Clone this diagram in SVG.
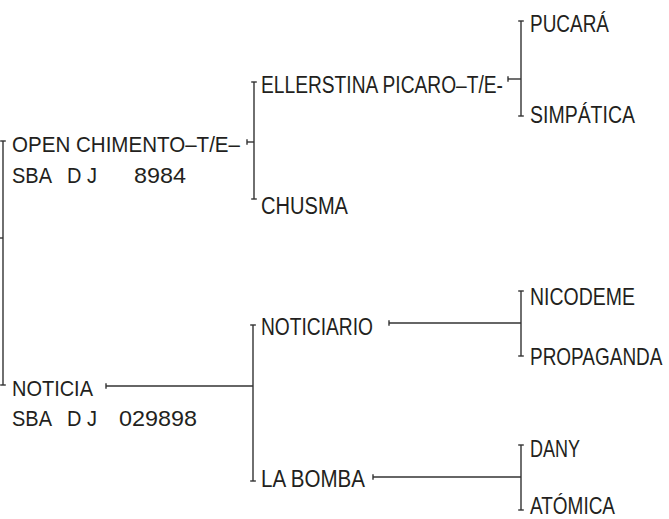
<svg xmlns="http://www.w3.org/2000/svg" width="669" height="519" viewBox="0 0 669 519">
<style>
.t{font-family:"Liberation Sans",Arial,sans-serif;font-size:23px;fill:#231f20}
.r{font-size:22px}
.c{fill:none;stroke:#333;stroke-width:1.4}
.e{marker-start:url(#cap);marker-end:url(#cap)}
.s{marker-start:url(#cap)}
</style>
<defs>
<marker id="cap" viewBox="-4 -4 8 8" markerWidth="8" markerHeight="8" refX="0" refY="0" orient="auto" markerUnits="userSpaceOnUse">
<path d="M0,-2.8V2.8" stroke="#333" stroke-width="1.4"/>
</marker>
</defs>
<rect width="669" height="519" fill="#fff"/>
<g id="connectors">
<path class="c e" d="M3,141V385"/>
<path class="c" d="M0,238H3"/>
<path class="c s" d="M247,142H254"/>
<path class="c e" d="M254,82V199"/>
<path class="c s" d="M508,79H521"/>
<path class="c e" d="M521,21V116"/>
<path class="c s" d="M106,386H253"/>
<path class="c e" d="M253,325V481"/>
<path class="c s" d="M389,323H521"/>
<path class="c e" d="M521,291V356"/>
<path class="c s" d="M373,477H521"/>
<path class="c e" d="M521,445V510"/>
</g>
<g id="open-chimento">
<text class="t r" x="12" y="152" textLength="228" lengthAdjust="spacingAndGlyphs">OPEN CHIMENTO–T/E–</text>
<text class="t r" x="12" y="183" textLength="40" lengthAdjust="spacingAndGlyphs">SBA</text>
<text class="t r" x="67" y="183" textLength="30" lengthAdjust="spacingAndGlyphs">D J</text>
<text class="t r" x="134" y="183" textLength="52" lengthAdjust="spacingAndGlyphs">8984</text>
</g>
<g id="noticia">
<text class="t r" x="12" y="396" textLength="81" lengthAdjust="spacingAndGlyphs">NOTICIA</text>
<text class="t r" x="12" y="426" textLength="40" lengthAdjust="spacingAndGlyphs">SBA</text>
<text class="t r" x="67" y="426" textLength="30" lengthAdjust="spacingAndGlyphs">D J</text>
<text class="t r" x="119" y="426" textLength="78" lengthAdjust="spacingAndGlyphs">029898</text>
</g>
<g id="ellerstina">
<text class="t" x="261" y="93" textLength="242" lengthAdjust="spacingAndGlyphs">ELLERSTINA PICARO–T/E-</text>
</g>
<g id="chusma">
<text class="t" x="261" y="214" textLength="87" lengthAdjust="spacingAndGlyphs">CHUSMA</text>
</g>
<g id="pucara">
<text class="t" x="530" y="32" textLength="79" lengthAdjust="spacingAndGlyphs">PUCARÁ</text>
</g>
<g id="simpatica">
<text class="t" x="530" y="123" textLength="105" lengthAdjust="spacingAndGlyphs">SIMPÁTICA</text>
</g>
<g id="noticiario">
<text class="t" x="261" y="335" textLength="112" lengthAdjust="spacingAndGlyphs">NOTICIARIO</text>
</g>
<g id="la-bomba">
<text class="t" x="261" y="487" textLength="104" lengthAdjust="spacingAndGlyphs">LA BOMBA</text>
</g>
<g id="nicodeme">
<text class="t" x="530" y="305" textLength="105" lengthAdjust="spacingAndGlyphs">NICODEME</text>
</g>
<g id="propaganda">
<text class="t" transform="translate(530,365) scale(0.825,1)" x="0" y="0">PROPAGANDA</text>
</g>
<g id="dany">
<text class="t" x="530" y="457" textLength="50" lengthAdjust="spacingAndGlyphs">DANY</text>
</g>
<g id="atomica">
<text class="t" x="530" y="514" textLength="85" lengthAdjust="spacingAndGlyphs">ATÓMICA</text>
</g>
</svg>
